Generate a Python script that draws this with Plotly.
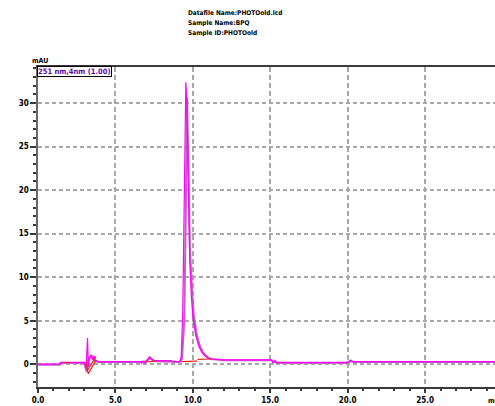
import plotly.graph_objects as go

# ---- data ----
t_main = [0.0, 1.4, 1.45, 3.0, 3.1, 3.2, 3.25, 3.3, 3.45, 3.55, 3.6, 3.7, 3.9,
          6.6, 6.7, 6.8, 6.9, 7.0, 7.2, 7.35, 7.5, 8.6, 8.7, 9.15, 9.25, 9.35,
          9.45, 9.55, 9.62, 9.7, 9.8, 9.9, 10.0, 10.2, 10.4, 10.6, 10.8, 11.0,
          11.2, 12.0, 15.1, 15.2, 15.3, 15.4, 20.0, 20.2, 20.35, 20.5, 29.6]
y_main = [0.0, 0.0, 0.2, 0.2, -0.6, 3.0, -0.3, 0.6, 1.1, 0.5, 1.0, 0.4, 0.3,
          0.3, 0.1, 0.3, 0.1, 0.4, 0.85, 0.6, 0.4, 0.4, 0.3, 0.3, 0.8, 6.0,
          20.0, 32.4, 30.0, 20.0, 12.0, 8.0, 5.5, 3.2, 2.0, 1.3, 0.9, 0.7,
          0.6, 0.5, 0.5, 0.2, 0.4, 0.2, 0.2, 0.45, 0.3, 0.3, 0.3]

t_ref = [0.0, 1.4, 1.45, 3.0, 3.15, 3.25, 3.4, 3.6, 3.9, 6.6, 7.0, 7.25, 7.5,
         9.15, 9.3, 9.45, 9.55, 9.63, 9.72, 9.82, 9.95, 10.05, 10.25, 10.45,
         10.65, 10.85, 11.05, 11.2, 12.0, 15.1, 15.2, 15.3, 15.4, 20.0, 20.2,
         20.35, 29.6]
y_ref = [-0.05, -0.05, 0.15, 0.15, -0.9, 0.4, 0.9, 0.5, 0.25, 0.25, 0.35, 0.7,
         0.35, 0.25, 0.6, 5.0, 18.0, 30.6, 22.0, 13.0, 8.5, 5.8, 3.4, 2.1, 1.4,
         0.95, 0.7, 0.6, 0.45, 0.45, 0.15, 0.35, 0.15, 0.15, 0.4, 0.25, 0.25]

base_segments = [
    ([1.7, 2.0], [0.2, 0.2]),
    ([3.1, 3.25, 3.75], [0.2, -1.1, 0.5]),
    ([3.2, 3.75], [-0.7, 0.9]),
    ([6.9, 7.6], [0.25, 0.35]),
    ([9.25, 10.3], [0.3, 0.35]),
    ([10.3, 11.2], [0.55, 0.6]),
]

y_ticks = [0, 5, 10, 15, 20, 25, 30]
x_ticks = [0, 5, 10, 15, 20, 25]
x_ticklabels = ["0.0", "5.0", "10.0", "15.0", "20.0", "25.0"]
header_lines = ["Datafile Name:PHOTOold.lcd", "Sample Name:BPQ", "Sample ID:PHOTOold"]
channel_label = "251 nm,4nm (1.00)"

FONT = "Liberation Sans Narrow, Arial Narrow, DejaVu Sans Condensed, sans-serif"

fig = go.Figure()
fig.add_trace(go.Scatter(x=t_ref, y=y_ref, mode="lines",
                         line=dict(color="#c65cc6", width=2), hoverinfo="skip"))
fig.add_trace(go.Scatter(x=t_main, y=y_main, mode="lines",
                         line=dict(color="#ff00ff", width=1.2), hoverinfo="skip"))
for xs, ys in base_segments:
    fig.add_trace(go.Scatter(x=xs, y=ys, mode="lines",
                             line=dict(color="#e0281c", width=1.2), hoverinfo="skip"))

L, R, T, B = 38, 0, 67, 19
W, H = 495, 406
ph = H - T - B

def py(ypix):
    return (H - B - ypix) / ph

def px(xpix):
    return (xpix - L) / (W - L - R)

for i, line in enumerate(header_lines):
    fig.add_annotation(text=line, xref="paper", yref="paper", x=px(186), y=py(13 + 10 * i),
                       xanchor="left", yanchor="middle", showarrow=False,
                       font=dict(family=FONT, size=6.5, color="black", weight="bold"))

fig.add_annotation(text="mAU", xref="paper", yref="paper", x=px(40), y=py(61),
                   xanchor="center", yanchor="middle", showarrow=False,
                   font=dict(family=FONT, size=7, color="black", weight="bold"))
fig.add_annotation(text=channel_label, xref="paper", yref="paper", x=px(37), y=py(66),
                   xanchor="left", yanchor="top", showarrow=False,
                   bgcolor="white", bordercolor="black", borderwidth=1, borderpad=0,
                   font=dict(family=FONT, size=7.5, color="#5a0aa0", weight="bold"))
fig.add_annotation(text="min", xref="paper", yref="paper", x=px(486), y=py(401),
                   xanchor="left", yanchor="middle", showarrow=False,
                   font=dict(family=FONT, size=7, color="black", weight="bold"))

fig.update_layout(
    width=W, height=H, margin=dict(l=L, r=R, t=T, b=B),
    paper_bgcolor="white", plot_bgcolor="white", showlegend=False,
    xaxis=dict(range=[0, 29.52], tickvals=x_ticks, ticktext=x_ticklabels,
               showgrid=True, gridcolor="#a8a8a8", gridwidth=1.5, griddash="5px,3px",
               zeroline=False, showline=True, linecolor="#3a3a3a", linewidth=2, mirror=True,
               ticks="outside", ticklen=4, tickcolor="#3a3a3a", tickwidth=1.5,
               minor=dict(dtick=1, ticklen=2, ticks="outside", tickcolor="#3a3a3a", showgrid=False),
               tickfont=dict(family=FONT, size=8, color="black", weight="bold")),
    yaxis=dict(range=[-2.62, 34.15], tickvals=y_ticks,
               showgrid=True, gridcolor="#a8a8a8", gridwidth=1.5, griddash="4px,3px",
               zeroline=False, showline=True, linecolor="#6a6a6a", linewidth=1.5,
               ticks="outside", ticklen=6, tickcolor="#3a3a3a", tickwidth=1.5,
               minor=dict(dtick=1, ticklen=3, ticks="outside", tickcolor="#3a3a3a", showgrid=False),
               tickfont=dict(family=FONT, size=8, color="black", weight="bold")),
)

fig.write_html("out.html")
